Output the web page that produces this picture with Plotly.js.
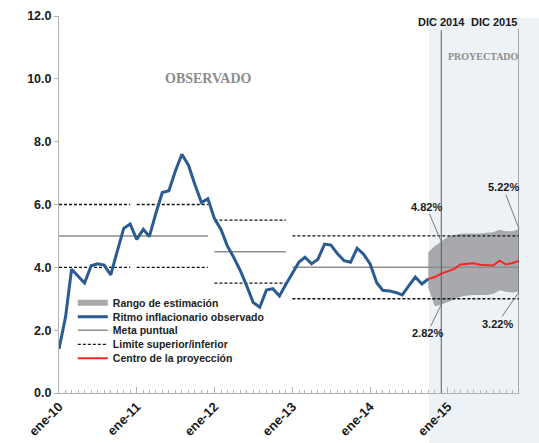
<!DOCTYPE html>
<html>
<head>
<meta charset="utf-8">
<script src="https://cdn.plot.ly/plotly-3.0.1.min.js"></script>
<style>html,body{margin:0;padding:0;background:#fff;}#chart{width:539px;height:443px;}</style>
</head>
<body>
<div id="chart"></div>
<script>
// ---- DATA ----
const startYear = 2010;
const monthCount = 72; // ene-10 .. dic-15
const observed = [1.40, 2.43, 3.94, 3.71, 3.50, 4.05, 4.11, 4.07, 3.76, 4.50, 5.24, 5.38,
                  4.89, 5.21, 4.98, 5.72, 6.38, 6.44, 7.06, 7.60, 7.25, 6.64, 6.06, 6.18,
                  5.55, 5.20, 4.69, 4.31, 3.90, 3.40, 2.88, 2.73, 3.28, 3.32, 3.09, 3.45,
                  3.80, 4.17, 4.32, 4.11, 4.26, 4.74, 4.71, 4.43, 4.21, 4.16, 4.61, 4.42,
                  4.11, 3.51, 3.27, 3.25, 3.20, 3.12, 3.41, 3.69, 3.47, 3.63];
const projStart = 57; // oct-14
const projCenter = [3.63, 3.69, 3.80, 3.88, 3.95, 4.09, 4.12, 4.13, 4.08, 4.07, 4.06, 4.21, 4.09, 4.14, 4.20];
const fanUpper   = [4.48, 4.68, 4.82, 4.98, 5.03, 5.07, 5.08, 5.08, 5.08, 5.10, 5.12, 5.20, 5.15, 5.15, 5.22];
const fanLower   = [3.35, 2.75, 2.82, 2.90, 2.98, 3.06, 3.10, 3.12, 3.12, 3.12, 3.15, 3.27, 3.22, 3.20, 3.22];
const metaStart = ['2010-01-01', '2012-01-01', '2013-01-01'];
const metaEnd   = ['2011-12-01', '2012-12-01', '2015-12-01'];
const metaValue = [5.0, 4.5, 4.0];
const limStart = ['2010-01-01', '2011-01-01', '2012-01-01', '2013-01-01'];
const limEnd   = ['2010-12-01', '2011-12-01', '2012-12-01', '2015-12-01'];
const limLow   = [4.0, 4.0, 3.5, 3.0];
const limHigh  = [6.0, 6.0, 5.5, 5.0];
const tickVals = ['2010-01-01', '2011-01-01', '2012-01-01', '2013-01-01', '2014-01-01', '2015-01-01'];
const tickText = ['ene-10', 'ene-11', 'ene-12', 'ene-13', 'ene-14', 'ene-15'];
const markers = ['2014-12-01', '2015-12-01'];
const markerText = ['DIC 2014', 'DIC 2015'];
const seriesNames = ['Rango de estimación', 'Ritmo inflacionario observado', 'Meta puntual',
                     'Limite superior/inferior', 'Centro de la proyección'];

// ---- BUILD ----
const months = [];
for (let i = 0; i < monthCount; i++) {
  const y = startYear + Math.floor(i / 12), m = i % 12 + 1;
  months.push(y + '-' + String(m).padStart(2, '0') + '-01');
}
const obsX = months.slice(0, observed.length);
const projX = months.slice(projStart, projStart + projCenter.length);

function segs(starts, ends, vals) {
  const x = [], y = [];
  for (let i = 0; i < starts.length; i++) {
    x.push(starts[i], ends[i], null); y.push(vals[i], vals[i], null);
  }
  return {x, y};
}
const meta = segs(metaStart, metaEnd, metaValue);
const lo = segs(limStart, limEnd, limLow);
const hi = segs(limStart, limEnd, limHigh);

const boldFont = {family: 'Liberation Sans, Arial, sans-serif', weight: 'bold', color: '#1a1a1a'};
const legendFont = {family: 'Liberation Sans, Arial, sans-serif', weight: 'bold', size: 10.5, color: '#222'};

const traces = [
  {x: projX.concat(projX.slice().reverse()), y: fanUpper.concat(fanLower.slice().reverse()),
   fill: 'toself', fillcolor: '#a7a9ac', mode: 'none', name: seriesNames[0], legend: 'legend', hoverinfo: 'skip'},
  {x: meta.x, y: meta.y, mode: 'lines', line: {color: '#8e8e8e', width: 1.5}, name: seriesNames[2], legend: 'legend3', connectgaps: false},
  {x: lo.x.concat(hi.x), y: lo.y.concat(hi.y), mode: 'lines', line: {color: '#111', width: 1.3, dash: '3px,2px'},
   name: seriesNames[3], legend: 'legend4', connectgaps: false},
  {x: obsX, y: observed, mode: 'lines', line: {color: '#2a5b91', width: 3}, name: seriesNames[1], legend: 'legend2'},
  {x: projX, y: projCenter, mode: 'lines', line: {color: '#ff2222', width: 2}, name: seriesNames[4], legend: 'legend5'}
];

const iDec14 = months.indexOf(markers[0]) - projStart;
const iDec15 = months.indexOf(markers[1]) - projStart;
const pctFont = {family: 'Liberation Sans, Arial, sans-serif', weight: 'bold', size: 11, color: '#1a1a1a'};
function pctNote(x, y, ax, ay) {
  return {x: x, y: y, xref: 'x', yref: 'y', text: y.toFixed(2) + '%', showarrow: true, arrowhead: 0,
          arrowwidth: 1, arrowcolor: '#7a7a7a', ax: ax, ay: ay, standoff: 0, font: pctFont};
}
function legendAt(yPaper) {
  return {x: 0.03, y: yPaper, xanchor: 'left', yanchor: 'middle', bgcolor: 'rgba(0,0,0,0)',
          font: legendFont, itemwidth: 30, borderwidth: 0};
}

const layout = {
  width: 539, height: 443,
  margin: {l: 59, r: 20, t: 16, b: 50},
  paper_bgcolor: '#ffffff', plot_bgcolor: 'rgba(0,0,0,0)',
  showlegend: true,
  legend: legendAt(0.2395),
  legend2: legendAt(0.2024),
  legend3: legendAt(0.1663),
  legend4: legendAt(0.1292),
  legend5: legendAt(0.0920),
  xaxis: {type: 'date', range: ['2010-01-01', '2015-12-01'], tickmode: 'array', tickvals: tickVals, ticktext: tickText,
          tickangle: -45, tickfont: Object.assign({size: 13}, boldFont), showline: true, linecolor: '#b3b3b3', linewidth: 1,
          ticks: 'inside', ticklen: 6, tickcolor: '#b3b3b3', showgrid: false, zeroline: false,
          minor: {tickmode: 'linear', tick0: '2010-01-01', dtick: 'M1', ticks: 'inside', ticklen: 3, tickcolor: '#b3b3b3', showgrid: false}},
  yaxis: {range: [0, 12], dtick: 2, tickformat: '.1f', tickfont: Object.assign({size: 12.5}, boldFont),
          showline: true, linecolor: '#b3b3b3', linewidth: 1, ticks: 'outside', ticklen: 4, tickcolor: '#b3b3b3',
          showgrid: false, zeroline: false},
  shapes: [
    {type: 'rect', xref: 'paper', yref: 'paper', x0: 0.8045, x1: 1.05, y0: -0.14, y1: 0.994,
     fillcolor: '#edf2f7', line: {width: 0}, layer: 'below'},
    {type: 'line', xref: 'x', yref: 'paper', x0: markers[0], x1: markers[0], y0: 0, y1: 0.962, line: {color: '#5a5a5a', width: 1}},
    {type: 'line', xref: 'x', yref: 'paper', x0: markers[1], x1: markers[1], y0: 0, y1: 0.967, line: {color: '#5a5a5a', width: 1}}
  ],
  annotations: [
    {x: '2011-12-01', y: 10, xref: 'x', yref: 'y', text: 'OBSERVADO', showarrow: false,
     font: {family: 'Liberation Serif, Times New Roman, serif', weight: 'bold', size: 14, color: '#8c8c8c'}},
    {x: '2015-06-16', y: 10.7, xref: 'x', yref: 'y', text: 'PROYECTADO', showarrow: false,
     font: {family: 'Liberation Serif, Times New Roman, serif', weight: 'bold', size: 10, color: '#8c8c8c'}},
    {x: markers[0], y: 0.983, xref: 'x', yref: 'paper', text: markerText[0], showarrow: false, xanchor: 'center', yanchor: 'middle',
     font: Object.assign({size: 11}, boldFont)},
    {x: markers[1], y: 0.983, xref: 'x', yref: 'paper', text: markerText[1], showarrow: false, xanchor: 'right', yanchor: 'middle',
     font: Object.assign({size: 11}, boldFont)},
    pctNote(markers[0], fanUpper[iDec14], -15, -35),
    pctNote(markers[1], fanUpper[iDec15], -16, -42),
    pctNote(markers[0], fanLower[iDec14], -14, 29),
    pctNote(markers[1], fanLower[iDec15], -22, 32)
  ]
};

Plotly.newPlot('chart', traces, layout, {staticPlot: true, displayModeBar: false});
</script>
</body>
</html>
